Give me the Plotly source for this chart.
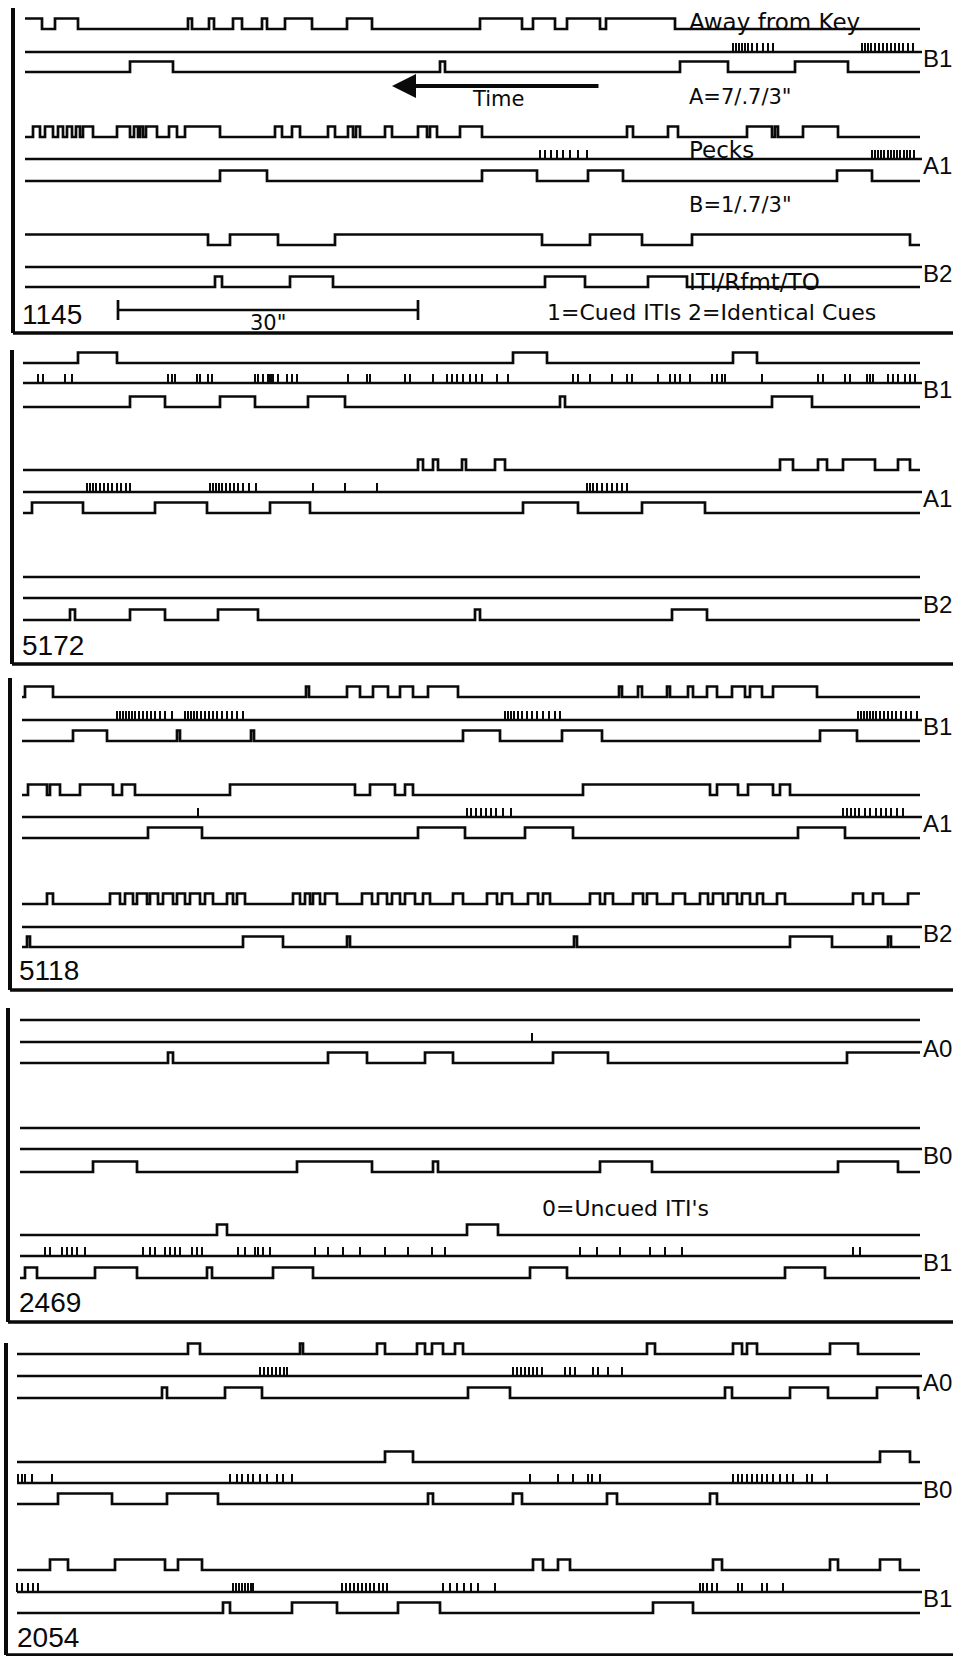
import plotly.graph_objects as go

# ---------------- DATA (times in seconds along each record) ----------------
PANEL_IDS = ["1145", "5172", "5118", "2469", "2054"]
ROW_LABELS = [["B1", "A1", "B2"], ["B1", "A1", "B2"], ["B1", "A1", "B2"],
              ["A0", "B0", "B1"], ["A0", "B0", "B1"]]
RECORD_START = [0.0, -0.2, -0.3, -0.5, -0.8]
RECORD_END = 89.5
PECK_LINE_END = 89.7
SCALE_BAR_START = 9.3
SCALE_BAR_SECONDS = 30
ARROW_FROM, ARROW_TO = 57.5, 36.7

# Panel 1145
P1_G1_TOP = [[0, 1.7], [3.0, 5.3], [16.3, 16.7], [18.4, 18.9], [20.8, 21.7], [23.7, 24.2], [26.0, 28.7],
             [32.2, 34.7], [45.5, 49.7], [50.8, 53.0], [54.2, 57.5], [58.1, 65.0]]
P1_G1_PECKS = [70.8, 71.1, 71.4, 71.7, 72.0, 72.3, 72.7, 73.2, 73.8, 74.3, 74.8,
               83.7, 84.0, 84.3, 84.6, 85.0, 85.4, 85.8, 86.2, 86.6, 87.0, 87.4, 87.8, 88.3, 88.8]
P1_G1_BOT = [[10.5, 14.8], [41.5, 42.0], [65.5, 70.3], [77.0, 82.3]]
P1_G2_TOP = [[0.8, 1.5], [2.0, 2.8], [3.3, 3.8], [4.2, 4.7], [5.1, 5.5], [5.8, 6.8], [9.2, 10.5], [10.9, 11.3],
             [11.5, 11.8], [12.1, 13.2], [14.4, 15.2], [16.0, 19.5], [25.0, 25.7], [26.7, 27.5], [30.3, 31.0],
             [32.3, 32.8], [33.1, 33.5], [36.0, 36.7], [39.3, 40.2], [40.5, 41.2], [43.5, 45.7], [60.2, 60.8],
             [64.3, 65.3], [72.2, 74.7], [75.0, 75.3], [77.8, 81.3]]
P1_G2_PECKS = [51.5, 52.0, 52.6, 53.2, 53.8, 54.5, 55.3, 56.2,
               84.7, 85.0, 85.3, 85.6, 85.9, 86.3, 86.6, 86.9, 87.2, 87.5, 87.9, 88.2, 88.5, 88.9]
P1_G2_BOT = [[19.5, 24.2], [45.7, 51.2], [56.3, 59.8], [81.2, 84.7]]
P1_G3_TOP = [[0, 18.3], [20.5, 25.3], [31.0, 51.7], [56.5, 61.7], [66.7, 88.5]]
P1_G3_PECKS = []
P1_G3_BOT = [[19.0, 19.7], [26.5, 30.8], [52.0, 56.0], [62.3, 66.2]]

# Panel 5172
P2_G1_TOP = [[5.3, 9.2], [48.8, 52.2], [70.8, 73.2]]
P2_G1_PECKS = [1.3, 1.8, 4.0, 4.7, 14.3, 14.7, 15.0, 17.2, 17.5, 18.3, 18.7, 23.0, 23.3, 23.8, 24.3, 24.5,
               24.7, 24.8, 25.3, 26.2, 26.7, 27.2, 32.3, 34.2, 34.5, 38.0, 38.5, 40.8, 42.2, 42.7, 43.2, 43.8,
               44.5, 45.1, 45.7, 47.2, 48.3, 54.8, 55.3, 56.5, 58.7, 60.2, 60.7, 63.3, 64.5, 65.0, 65.5, 66.5,
               68.7, 69.2, 69.7, 70.0, 73.7, 79.3, 79.8, 82.0, 82.5, 84.2, 84.5, 84.8, 86.3, 86.8, 87.3, 88.0,
               88.5, 89.0]
P2_G1_BOT = [[10.5, 14.0], [19.5, 23.0], [28.3, 32.0], [53.5, 54.0], [74.7, 78.7]]
P2_G2_TOP = [[39.3, 39.8], [40.8, 41.3], [43.7, 44.1], [47.0, 48.0], [75.5, 76.8], [79.3, 80.2],
             [81.8, 85.0], [87.3, 88.5]]
P2_G2_PECKS = [6.2, 6.5, 6.8, 7.1, 7.5, 7.9, 8.3, 8.7, 9.2, 9.6, 10.1, 10.5, 18.5, 18.8, 19.1, 19.4, 19.7,
               20.1, 20.5, 20.9, 21.3, 21.8, 22.4, 23.1, 28.8, 32.0, 35.2, 56.2, 56.5, 56.8, 57.2, 57.7, 58.2,
               58.7, 59.2, 59.7, 60.2]
P2_G2_BOT = [[0.7, 5.8], [13.0, 18.2], [24.5, 28.5], [49.8, 55.3], [61.7, 68.0]]
P2_G3_TOP = []
P2_G3_PECKS = []
P2_G3_BOT = [[4.5, 5.0], [10.5, 14.0], [19.3, 23.3], [45.0, 45.5], [64.7, 68.2]]

# Panel 5118
P3_G1_TOP = [[0, 2.8], [28.1, 28.4], [32.2, 33.5], [34.8, 36.3], [37.5, 38.8], [40.3, 43.3], [59.4, 59.7],
             [61.3, 61.7], [64.2, 64.5], [66.3, 66.8], [68.2, 69.2], [70.7, 72.0], [72.5, 73.7], [74.8, 79.2]]
P3_G1_PECKS = [9.2, 9.5, 9.8, 10.1, 10.4, 10.7, 11.0, 11.4, 11.8, 12.2, 12.6, 13.0, 13.5, 14.0, 14.7,
               16.0, 16.3, 16.6, 16.9, 17.2, 17.6, 18.0, 18.4, 18.8, 19.2, 19.7, 20.2, 20.7, 21.2, 21.8,
               48.0, 48.3, 48.6, 48.9, 49.3, 49.7, 50.2, 50.7, 51.2, 51.8, 52.4, 53.0, 53.5,
               83.3, 83.6, 83.9, 84.2, 84.5, 84.8, 85.1, 85.5, 85.9, 86.3, 86.7, 87.1, 87.6, 88.1, 88.6, 89.2]
P3_G1_BOT = [[4.8, 8.2], [15.2, 15.5], [22.6, 22.9], [43.8, 47.5], [53.7, 57.7], [79.5, 83.2]]
P3_G2_TOP = [[0.3, 2.2], [2.5, 3.5], [5.5, 8.8], [9.7, 11.0], [20.5, 33.0], [34.5, 37.0], [38.0, 38.8],
             [55.8, 68.5], [69.2, 71.3], [72.3, 74.8], [75.5, 76.5]]
P3_G2_PECKS = [17.3, 44.2, 44.6, 45.1, 45.6, 46.1, 46.6, 47.1, 47.8, 48.6,
               81.8, 82.2, 82.6, 83.0, 83.4, 84.0, 84.5, 85.1, 85.6, 86.1, 86.6, 87.2, 87.8]
P3_G2_BOT = [[12.3, 17.7], [39.3, 44.0], [50.0, 54.8], [77.3, 82.0]]
P3_G3_TOP = [[2.2, 2.8], [8.5, 9.5], [10.0, 10.8], [11.2, 12.2], [12.5, 13.3], [13.8, 14.8], [15.2, 16.0],
             [16.5, 17.5], [18.0, 18.8], [20.2, 20.8], [21.2, 22.0], [26.8, 27.5], [28.0, 28.5], [28.8, 29.5],
             [30.0, 31.2], [33.7, 34.7], [35.3, 36.2], [36.7, 37.5], [38.0, 39.0], [39.8, 40.5], [42.8, 43.8],
             [46.2, 47.2], [47.7, 48.7], [50.3, 51.3], [51.8, 52.5], [56.5, 57.5], [58.0, 58.8], [60.8, 61.8],
             [62.2, 63.2], [64.8, 66.0], [67.5, 68.3], [68.8, 69.8], [70.3, 71.2], [71.7, 72.5], [73.2, 73.8],
             [75.2, 76.0], [82.8, 83.8], [84.8, 85.8], [88.3, 89.5]]
P3_G3_PECKS = []
P3_G3_BOT = [[0.2, 0.5], [21.8, 25.8], [32.2, 32.5], [54.9, 55.2], [76.5, 80.7], [86.3, 86.6]]

# Panel 2469
P4_G1_TOP = []
P4_G1_PECKS = [50.7]
P4_G1_BOT = [[14.3, 14.8], [30.3, 34.2], [40.0, 42.8], [52.8, 58.3], [82.2, 89.5]]
P4_G2_TOP = []
P4_G2_PECKS = []
P4_G2_BOT = [[6.8, 11.2], [27.2, 34.7], [40.8, 41.3], [57.5, 62.7], [81.3, 87.3]]
P4_G3_TOP = [[19.2, 20.2], [44.2, 47.3]]
P4_G3_PECKS = [2.0, 2.5, 3.7, 4.2, 4.7, 5.2, 6.0, 11.8, 12.5, 13.0, 14.0, 14.5, 15.0, 15.5, 16.7, 17.2, 17.7,
               21.3, 22.0, 23.0, 23.3, 23.8, 24.5, 29.0, 30.3, 31.8, 33.5, 36.0, 38.3, 40.7, 42.0,
               55.5, 57.2, 59.5, 62.5, 64.0, 65.7, 82.8, 83.5]
P4_G3_BOT = [[0, 1.2], [7.0, 11.2], [18.2, 18.7], [24.8, 28.8], [50.5, 54.2], [76.0, 80.0]]

# Panel 2054
P5_G1_TOP = [[16.3, 17.5], [27.5, 27.8], [35.2, 36.0], [39.2, 40.0], [40.7, 41.8], [43.0, 43.8],
             [62.2, 63.0], [70.8, 71.7], [72.2, 73.2], [80.5, 83.3]]
P5_G1_PECKS = [23.5, 23.9, 24.3, 24.7, 25.1, 25.5, 25.9, 26.2, 48.8, 49.2, 49.6, 50.0, 50.4, 50.8, 51.2,
               51.7, 54.0, 54.5, 55.0, 56.8, 57.3, 58.3, 59.7]
P5_G1_BOT = [[13.7, 14.2], [20.0, 23.7], [44.3, 48.5], [70.0, 70.7], [76.5, 80.3], [85.2, 89.3]]
P5_G2_TOP = [[36.0, 38.8], [85.5, 88.5]]
P5_G2_PECKS = [-0.7, -0.3, 0.0, 0.7, 2.7, 20.5, 21.2, 21.7, 22.3, 22.8, 23.5, 24.2, 25.2, 25.8, 26.7,
               50.5, 53.3, 54.8, 56.3, 56.7, 57.5, 70.8, 71.3, 71.7, 72.2, 72.7, 73.2, 73.7, 74.2, 74.8,
               75.5, 76.2, 76.8, 78.2, 78.7, 80.2]
P5_G2_BOT = [[3.3, 8.7], [14.2, 19.3], [40.3, 40.8], [48.8, 49.7], [58.2, 59.2], [68.5, 69.2]]
P5_G3_TOP = [[2.5, 4.3], [9.0, 14.0], [15.3, 17.7], [50.8, 51.8], [53.3, 54.5], [68.8, 69.7],
             [80.5, 81.3], [85.5, 87.5]]
P5_G3_PECKS = [-0.8, -0.3, 0.3, 0.8, 1.3, 20.8, 21.1, 21.4, 21.7, 22.0, 22.3, 22.6, 22.8,
               31.7, 32.1, 32.5, 32.9, 33.3, 33.7, 34.1, 34.5, 34.9, 35.4, 35.8, 36.2,
               41.8, 42.5, 43.2, 43.9, 44.6, 45.3, 47.0, 67.5, 67.8, 68.2, 68.7, 69.2,
               71.3, 71.7, 73.7, 74.2, 75.8]
P5_G3_BOT = [[19.8, 20.5], [26.7, 31.2], [37.3, 41.5], [62.8, 66.8]]

PANEL_ROWS = [
    [(P1_G1_TOP, P1_G1_PECKS, P1_G1_BOT), (P1_G2_TOP, P1_G2_PECKS, P1_G2_BOT), (P1_G3_TOP, P1_G3_PECKS, P1_G3_BOT)],
    [(P2_G1_TOP, P2_G1_PECKS, P2_G1_BOT), (P2_G2_TOP, P2_G2_PECKS, P2_G2_BOT), (P2_G3_TOP, P2_G3_PECKS, P2_G3_BOT)],
    [(P3_G1_TOP, P3_G1_PECKS, P3_G1_BOT), (P3_G2_TOP, P3_G2_PECKS, P3_G2_BOT), (P3_G3_TOP, P3_G3_PECKS, P3_G3_BOT)],
    [(P4_G1_TOP, P4_G1_PECKS, P4_G1_BOT), (P4_G2_TOP, P4_G2_PECKS, P4_G2_BOT), (P4_G3_TOP, P4_G3_PECKS, P4_G3_BOT)],
    [(P5_G1_TOP, P5_G1_PECKS, P5_G1_BOT), (P5_G2_TOP, P5_G2_PECKS, P5_G2_BOT), (P5_G3_TOP, P5_G3_PECKS, P5_G3_BOT)],
]

# ---------------- LAYOUT (page positions in pixels) ----------------
W, H = 960, 1656
GROUP_Y = [
    [(29, 52, 72), (137, 159, 181), (245, 267, 287)],
    [(363, 383, 407), (470, 492, 513), (577, 598, 620)],
    [(697, 720, 741), (795, 817, 838), (904, 927, 947)],
    [(1020, 1042, 1063), (1128, 1149, 1172), (1235, 1256, 1278)],
    [(1354, 1376, 1398), (1462, 1483, 1504), (1570, 1592, 1613)],
]
PANEL_BOX = [(13, 8, 333), (12, 350, 664), (10, 678, 990), (8, 1008, 1322), (6, 1343, 1655)]
PANEL_ID_POS = [(20, 314), (20, 645), (17, 970), (17, 1302), (15, 1637)]
PULSE_H = 10.5
TICK_H = 9
INK = "#0a0a0a"


def add_step(xs, ys, intervals, t0, t1, y_lo):
    y_hi = y_lo - PULSE_H
    if intervals and intervals[0][0] <= t0:
        xs.append(t0); ys.append(y_hi)
        first = True
    else:
        xs.append(t0); ys.append(y_lo)
        first = False
    for i, (s, e) in enumerate(intervals):
        if not (i == 0 and first):
            xs += [s, s]; ys += [y_lo, y_hi]
        if e >= t1:
            xs.append(t1); ys.append(y_hi)
            xs.append(None); ys.append(None)
            return
        xs += [e, e]; ys += [y_hi, y_lo]
    xs.append(t1); ys.append(y_lo)
    xs.append(None); ys.append(None)


step_x, step_y, tick_x, tick_y = [], [], [], []
for p, rows in enumerate(PANEL_ROWS):
    t0 = RECORD_START[p]
    for g, (top, pecks, bot) in enumerate(rows):
        y_top, y_mid, y_bot = GROUP_Y[p][g]
        add_step(step_x, step_y, top, t0, RECORD_END, y_top)
        add_step(step_x, step_y, bot, t0, RECORD_END, y_bot)
        step_x += [t0, PECK_LINE_END, None]
        step_y += [y_mid, y_mid, None]
        for t in pecks:
            tick_x += [t, t, None]
            tick_y += [y_mid, y_mid - TICK_H, None]

fig = go.Figure()
fig.add_trace(go.Scatter(x=step_x, y=step_y, mode="lines", line=dict(color=INK, width=2.7),
                         hoverinfo="skip", showlegend=False))
fig.add_trace(go.Scatter(x=tick_x, y=tick_y, mode="lines", line=dict(color=INK, width=2.0),
                         hoverinfo="skip", showlegend=False))
# 30" scale bar
sb0, sb1 = SCALE_BAR_START, SCALE_BAR_START + SCALE_BAR_SECONDS
fig.add_trace(go.Scatter(x=[sb0, sb1, None, sb0, sb0, None, sb1, sb1],
                         y=[310, 310, None, 300, 320, None, 300, 320],
                         mode="lines", line=dict(color=INK, width=2.7), hoverinfo="skip", showlegend=False))

shapes = []
for (lx, ty, by) in PANEL_BOX:
    shapes.append(dict(type="line", xref="paper", yref="y", x0=lx / W, x1=lx / W, y0=ty, y1=by,
                       line=dict(color=INK, width=4)))
    shapes.append(dict(type="line", xref="paper", yref="y", x0=lx / W, x1=953 / W, y0=by, y1=by,
                       line=dict(color=INK, width=3.5)))

ann = []
FONT = "DejaVu Sans"


def text(s, px, py, size, anchor="left", family=FONT):
    ann.append(dict(text=s, xref="paper", yref="y", x=px / W, y=py, xanchor=anchor, yanchor="middle",
                    showarrow=False, font=dict(family=family, size=size, color=INK)))


for p, pid in enumerate(PANEL_IDS):
    text(pid, PANEL_ID_POS[p][0], PANEL_ID_POS[p][1], 28, family="Liberation Sans")
    for g, lab in enumerate(ROW_LABELS[p]):
        text(lab, 921, GROUP_Y[p][g][1] + 6, 24, family="Liberation Sans")

text("Away from Key", 687, 22, 23)
text("Time", 470, 99, 21)
text("A=7/.7/3\"", 687, 97, 21)
text("Pecks", 687, 150, 23)
text("B=1/.7/3\"", 687, 205, 21)
text("ITI/Rfmt/TO", 687, 282, 23)
text("1=Cued ITIs 2=Identical Cues", 545, 312, 22)
text("30\"", 268, 323, 21, anchor="center")
text("0=Uncued ITI's", 540, 1208, 22)

ann.append(dict(x=ARROW_TO, y=86, ax=ARROW_FROM, ay=86, xref="x", yref="y", axref="x", ayref="y",
                showarrow=True, arrowhead=2, arrowsize=1.2, arrowwidth=4, arrowcolor=INK, text=""))

fig.update_layout(
    width=W, height=H, margin=dict(l=0, r=0, t=0, b=0),
    paper_bgcolor="white", plot_bgcolor="white", showlegend=False,
    xaxis=dict(range=[-2.5, 93.5], visible=False, fixedrange=True),
    yaxis=dict(range=[H, 0], visible=False, fixedrange=True),
    shapes=shapes, annotations=ann,
)
fig.write_html("out.html", config={"displayModeBar": False},
               post_script="document.body.style.margin='0';document.body.style.overflow='hidden';")
